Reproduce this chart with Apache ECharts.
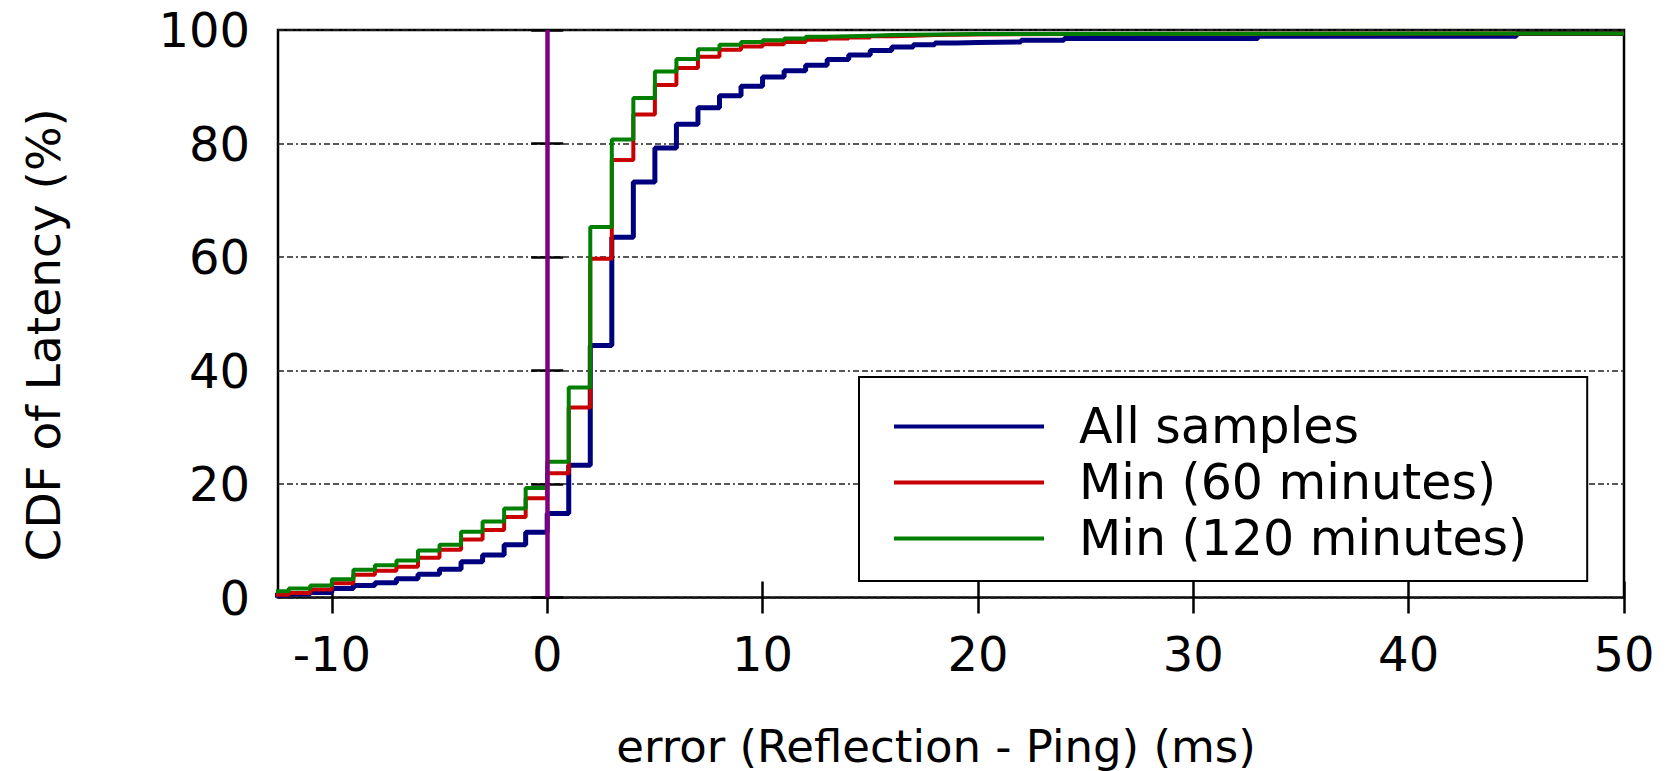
<!DOCTYPE html>
<html>
<head>
<meta charset="utf-8">
<script src="https://cdn.jsdelivr.net/npm/echarts@6/dist/echarts.min.js"></script>
<style>
html,body{margin:0;padding:0;background:#fff;}
#chart{width:1679px;height:771px;}
</style>
</head>
<body>
<div id="chart"></div>
<script>
// ---- data ----
const seriesNames = ['All samples', 'Min (60 minutes)', 'Min (120 minutes)'];

const allSamplesX = [-13,-12,-11,-10,-9,-8,-7,-6,-5,-4,-3,-2,-1,0,1,2,3,4,5,6,7,8,9,10,11,12,13,14,15,16,17,18,19,20,22,24,33,45,50];
const allSamplesY = [0.4,0.6,0.9,1.6,2.1,2.6,3.3,4.1,5.0,6.3,7.5,9.3,11.5,14.8,23.3,44.4,63.5,73.2,79.2,83.4,86.3,88.4,90.1,91.7,92.8,93.8,94.8,95.6,96.4,97.0,97.4,97.7,97.8,97.9,98.2,98.5,98.9,99.4,99.4];

const min60X = [-13,-12,-11,-10,-9,-8,-7,-6,-5,-4,-3,-2,-1,0,1,2,3,4,5,6,7,8,9,10,11,12,13,14,15,16,17,18,20,25,50];
const min60Y = [0.5,0.8,1.4,2.5,4.0,4.7,5.4,7.0,8.4,10.2,11.9,14.2,17.5,21.9,33.5,59.7,77.1,85.1,90.3,93.3,95.3,96.5,97.1,97.5,97.9,98.3,98.5,98.7,98.9,99.0,99.1,99.2,99.3,99.4,99.4];

const min120X = [-13,-12,-11,-10,-9,-8,-7,-6,-5,-4,-3,-2,-1,0,1,2,3,4,5,6,7,8,9,10,11,12,13,14,15,16,18,20,50];
const min120Y = [1.1,1.6,2.1,3.2,4.9,5.7,6.5,8.3,9.3,11.6,13.4,15.7,19.3,23.9,37.0,65.3,80.7,88.0,92.7,94.9,96.6,97.4,97.9,98.2,98.5,98.8,98.9,99.0,99.1,99.2,99.3,99.4,99.4];

const xTicks = [-10, 0, 10, 20, 30, 40, 50];
const referenceX = 0;

const xTitle = 'error (Reflection - Ping) (ms)';
const yTitle = 'CDF of Latency (%)';

function pairs(xs, ys) { return xs.map((x, i) => [x, ys[i]]); }

const FONT = 'DejaVu Sans';
const chart = echarts.init(document.getElementById('chart'), null, {renderer: 'svg'});

const tickStyle = {inside: true, length: 16, lineStyle: {color: '#000', width: 2.5}};

chart.setOption({
  animation: false,
  backgroundColor: '#fff',
  grid: {left: 278, right: 55, top: 30, bottom: 173.5, show: true, borderColor: '#000', borderWidth: 2.5,
         backgroundColor: 'transparent', containLabel: false, outerBoundsMode: 'none'},
  legend: {
    data: seriesNames,
    orient: 'vertical',
    left: 859, top: 377,
    padding: [25, 60, 18, 35],
    itemGap: 7,
    itemWidth: 150, itemHeight: 4,
    icon: 'rect',
    backgroundColor: '#fff',
    borderColor: '#000', borderWidth: 2,
    textStyle: {fontFamily: FONT, fontSize: 49, color: '#000', padding: [0, 0, 0, 30]}
  },
  xAxis: [{
    type: 'value', min: -12.5, max: 50, position: 'bottom',
    axisLine: {show: false},
    axisTick: Object.assign({customValues: xTicks}, tickStyle),
    axisLabel: {customValues: xTicks, fontFamily: FONT, fontSize: 48, color: '#000', margin: 32},
    splitLine: {show: false},
    name: xTitle, nameLocation: 'middle', nameGap: 126,
    nameTextStyle: {fontFamily: FONT, fontSize: 45, color: '#000', padding: [0, 30, 0, 0]}
  }, {
    type: 'value', min: -12.5, max: 50, position: 'top',
    axisLine: {show: false},
    axisTick: Object.assign({customValues: xTicks}, tickStyle),
    axisLabel: {show: false},
    splitLine: {show: false}
  }],
  yAxis: [{
    type: 'value', min: 0, max: 100, interval: 20, position: 'left',
    axisLine: {show: false},
    axisTick: tickStyle,
    axisLabel: {fontFamily: FONT, fontSize: 48, color: '#000', margin: 28},
    splitLine: {show: true, lineStyle: {color: '#222', width: 1.5, type: [6, 3, 6, 3, 2, 3]}},
    name: yTitle, nameLocation: 'middle', nameGap: 211,
    nameTextStyle: {fontFamily: FONT, fontSize: 47, color: '#000', padding: [0, 42, 0, 0]}
  }, {
    type: 'value', min: 0, max: 100, interval: 20, position: 'right',
    axisLine: {show: false},
    axisTick: tickStyle,
    axisLabel: {show: false},
    splitLine: {show: false}
  }],
  series: [{
    name: 'reference', type: 'line', data: [], silent: true,
    markLine: {symbol: 'none', silent: true, label: {show: false},
      lineStyle: {color: '#800080', width: 4.5, type: 'solid'},
      data: [{xAxis: referenceX}]}
  }, {
    name: seriesNames[0], type: 'line', step: 'end', showSymbol: false,
    data: pairs(allSamplesX, allSamplesY),
    color: '#00007f', lineStyle: {color: '#00007f', width: 5}
  }, {
    name: seriesNames[1], type: 'line', step: 'end', showSymbol: false,
    data: pairs(min60X, min60Y),
    color: '#c80000', lineStyle: {color: '#c80000', width: 4}
  }, {
    name: seriesNames[2], type: 'line', step: 'end', showSymbol: false,
    data: pairs(min120X, min120Y),
    color: '#007f00', lineStyle: {color: '#007f00', width: 4}
  }]
});
</script>
</body>
</html>
